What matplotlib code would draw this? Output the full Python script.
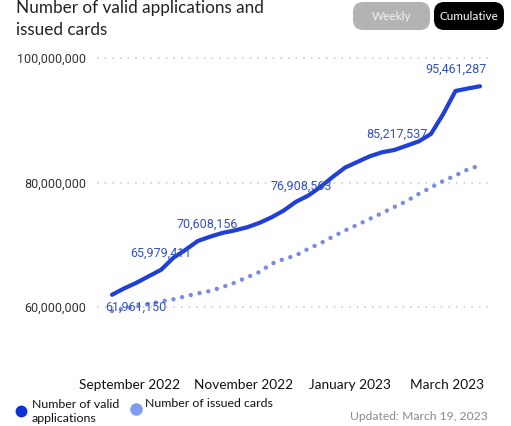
import numpy as np
import matplotlib
matplotlib.use("Agg")
import matplotlib.pyplot as plt
import matplotlib.dates as mdates
from matplotlib.patches import FancyBboxPatch
from matplotlib.lines import Line2D
from matplotlib.ticker import FuncFormatter

# ---------------- data ----------------
start_date = np.datetime64("2022-08-21")
n_weeks = 31
dates = start_date + np.arange(n_weeks) * np.timedelta64(7, "D")

valid_applications = np.array([
    61.961150, 63.0, 63.9, 64.95, 65.979411, 67.9, 69.2, 70.608156, 71.3, 71.9,
    72.3, 72.8, 73.5, 74.4, 75.5, 76.908563, 77.9, 79.3, 80.9, 82.4,
    83.3, 84.2, 84.85, 85.217537, 85.9, 86.6, 87.8, 91.0, 94.7, 95.1,
    95.461287]) * 1e6

issued_cards = np.array([
    59.35, 59.76, 60.08, 60.48, 60.89, 61.24, 61.73, 62.18, 62.58, 63.2,
    63.9, 64.76, 65.6, 66.94, 67.7, 68.3, 69.35, 70.24, 71.3, 72.3,
    73.2, 74.15, 75.08, 76.05, 77.0, 78.16, 79.2, 80.24, 81.13, 82.1,
    82.74]) * 1e6

labeled_points = [0, 4, 7, 15, 23, 30]
label_texts = ["61,961,150", "65,979,411", "70,608,156", "76,908,563",
               "85,217,537", "95,461,287"]

tick_dates = np.array(["2022-08-31", "2022-11-04", "2023-01-04", "2023-02-28"],
                      dtype="datetime64[D]")
tick_labels = ["September 2022", "November 2022", "January 2023", "March 2023"]
y_ticks = [60e6, 80e6, 100e6]

title = "Number of valid applications and\nissued cards"
legend_labels = ["Number of valid\napplications", "Number of issued cards"]
updated_text = "Updated: March 19, 2023"

# ---------------- style ----------------
W, H = 511, 426
fig = plt.figure(figsize=(W / 100, H / 100), dpi=100)
fig.patch.set_facecolor("white")

def fx(px):
    return px / W

def fy(py):
    return 1 - py / H

ax_l, ax_r, ax_t, ax_b = 97, 490, 55, 355
ax = fig.add_axes([fx(ax_l), fy(ax_b), (ax_r - ax_l) / W, (ax_b - ax_t) / H])

app_color = "#1f3fd6"
card_color = "#7b8de0"
label_color = "#3450c0"

xd = mdates.date2num(dates.astype("datetime64[D]").astype(object))
ax.plot(xd, valid_applications, color=app_color, lw=3.0,
        solid_capstyle="round", solid_joinstyle="round", zorder=3)
ax.plot(xd, issued_cards, color=card_color, lw=3.2,
        linestyle=(0, (0.01, 2.0)), dash_capstyle="round", zorder=2)

px_per_day = (480 - 112) / (xd[-1] - xd[0])
ax.set_xlim(xd[0] - (112 - ax_l) / px_per_day, xd[-1] + (ax_r - 480) / px_per_day)
ppm = (307 - 58) / 40.0  # pixels per million
ax.set_ylim(60e6 - (ax_b - 307) / ppm * 1e6, 100e6 + (58 - ax_t) / ppm * 1e6)

for s in ax.spines.values():
    s.set_visible(False)
ax.set_yticks(y_ticks)
ax.yaxis.set_major_formatter(FuncFormatter(lambda v, p: f"{int(round(v)):,}"))
ax.tick_params(axis="y", length=0, pad=8, labelsize=9, labelcolor="#333333")
for lab in ax.get_yticklabels():
    lab.set_fontfamily("Roboto")
ax.grid(axis="y", color="#c8c8c8", lw=1.1, linestyle=(0, (1, 4)))
ax.set_axisbelow(True)

tx = mdates.date2num(tick_dates.astype(object))
ax.set_xticks(tx)
ax.set_xticklabels(tick_labels, fontfamily="Lato", fontsize=9.8, color="#111111")
ax.tick_params(axis="x", length=0, pad=17)

offsets = [(17, -9), (0, 12), (7, 12), (4, 11), (2, 11), (-17, 12)]
for idx, txt, off in zip(labeled_points, label_texts, offsets):
    ax.annotate(txt, (xd[idx], valid_applications[idx]), xytext=off,
                textcoords="offset points", ha="center", va="center",
                fontfamily="Roboto", fontsize=9, color=label_color, zorder=5)

# title (one text per line, baseline placed)
for line, base in zip(title.split("\n"), [12.5, 35]):
    fig.text(fx(16), fy(base), line, ha="left", va="baseline",
             fontfamily="Lato", fontsize=12.3, color="#222222")

# buttons
def button(x0, x1, y0, y1, face, text, tcolor):
    p = FancyBboxPatch((fx(x0), fy(y1)), fx(x1) - fx(x0), fy(y0) - fy(y1),
                       boxstyle="round,pad=0,rounding_size=0.02",
                       transform=fig.transFigure, facecolor=face,
                       edgecolor="none", mutation_aspect=W / H)
    fig.add_artist(p)
    fig.text(fx((x0 + x1) / 2), fy((y0 + y1) / 2), text, ha="center",
             va="center", fontfamily="Lato", fontsize=8.5, color=tcolor)

button(353, 430, 2, 30, "#b3b3b3", "Weekly", "#f2f2f2")
button(434, 504, 2, 30, "#000000", "Cumulative", "#ffffff")

# legend
fig.add_artist(Line2D([fx(21)], [fy(410.5)], marker="o", markersize=7.5,
                      color="#1030d8", transform=fig.transFigure))
for line, base in zip(legend_labels[0].split("\n"), [408, 422]):
    fig.text(fx(32), fy(base), line, ha="left", va="baseline",
             fontfamily="Lato", fontsize=8.9, color="#111111")
fig.add_artist(Line2D([fx(135.5)], [fy(409)], marker="o", markersize=8,
                      color="#7f9cf0", transform=fig.transFigure))
fig.text(fx(145), fy(407), legend_labels[1], ha="left", va="baseline",
         fontfamily="Lato", fontsize=8.9, color="#111111")
fig.text(fx(488), fy(420), updated_text, ha="right", va="baseline",
         fontfamily="Lato", fontsize=8.7, color="#8a8a8a")

fig.savefig("out.png", dpi=100)
